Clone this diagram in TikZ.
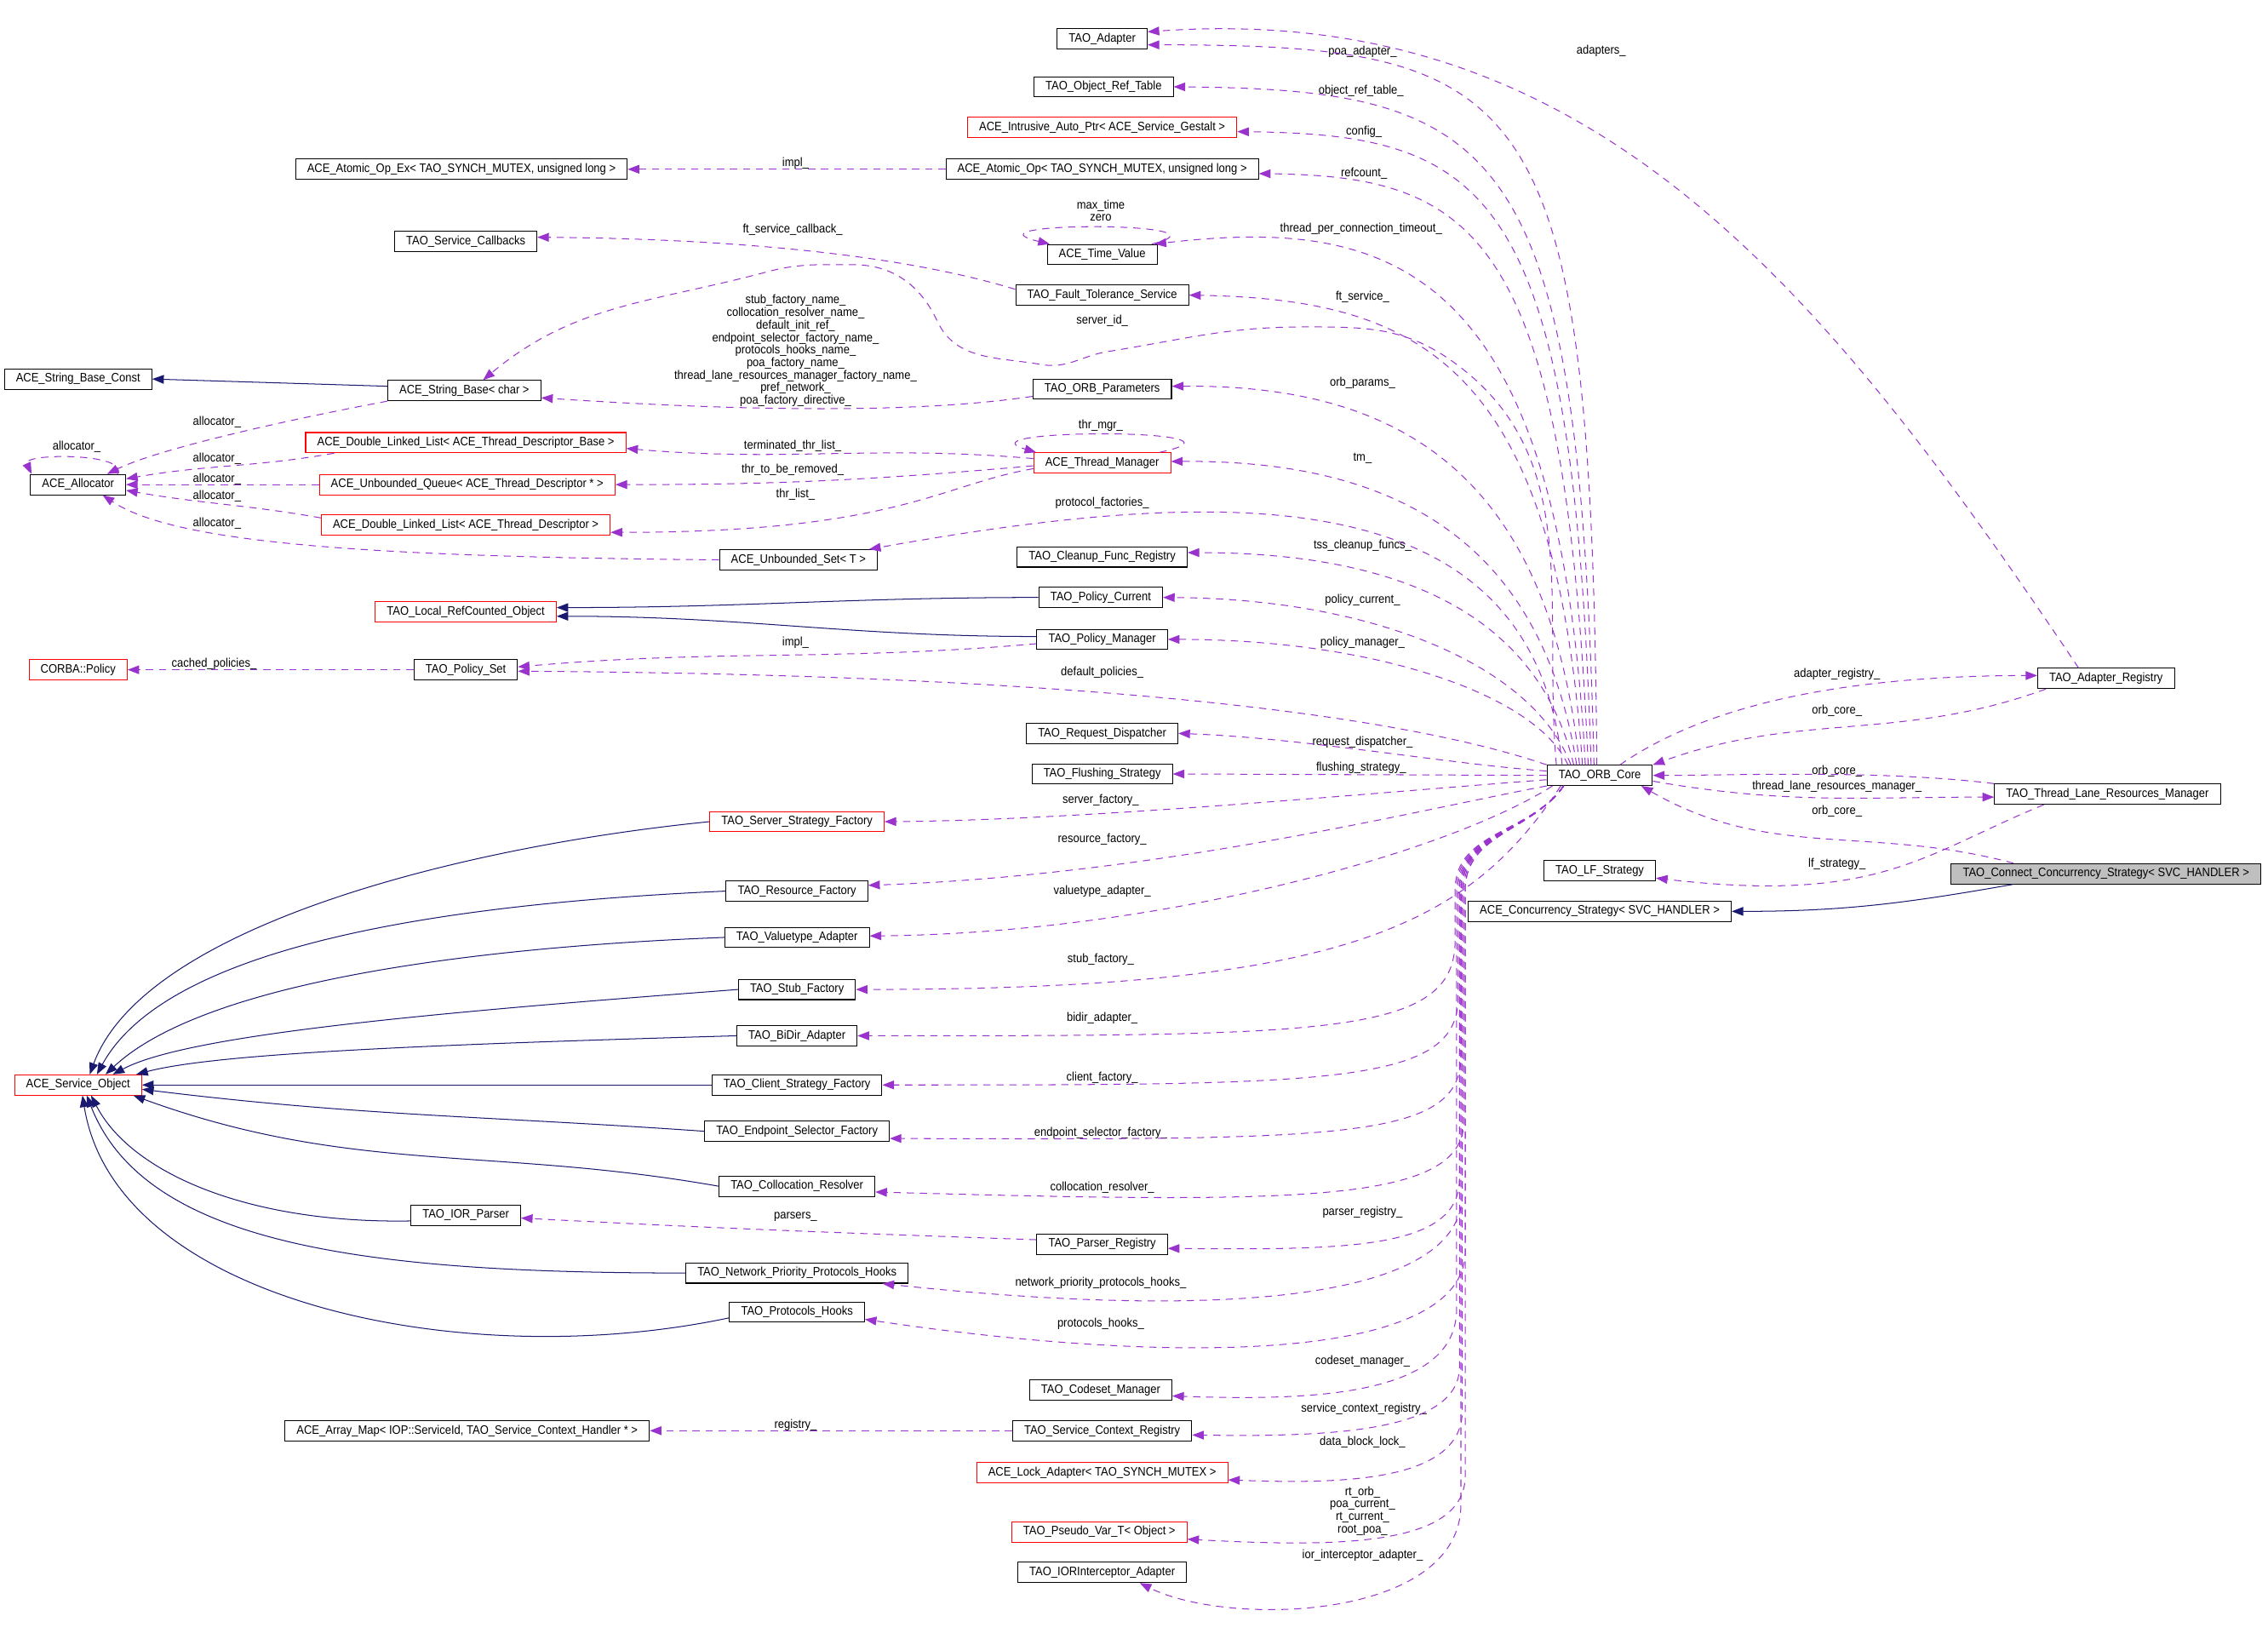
\documentclass[tikz,border=0pt]{standalone}
\usepackage{fontspec}
\setmainfont{Liberation Sans}[FakeStretch=0.9]
\usepackage{tikz}
\usetikzlibrary{arrows.meta}
\definecolor{inhcol}{HTML}{191970}
\definecolor{usecol}{HTML}{9A32CD}
\tikzset{
  cls/.style={draw=black, line width=0.6pt, anchor=center, inner xsep=8pt, inner ysep=0pt, minimum height=14pt, font=\fontsize{8.5}{8.65}\selectfont},
  rcls/.style={cls, draw=red},
  lbl/.style={inner sep=0pt, align=center, font=\fontsize{8.5}{8.65}\selectfont},
  usage/.style={draw=usecol, line width=0.6pt, dash pattern=on 5pt off 4pt, >={Triangle[length=8pt,width=6pt]}, ->},
  inherit/.style={draw=inhcol, line width=0.6pt, >={Triangle[length=8pt,width=6pt]}, ->}
}
\begin{document}
\begin{tikzpicture}[x=1pt,y=1pt]
\path[fill=white] (0,0) rectangle (1568,-1136.6);
\useasboundingbox (0,0) rectangle (1568,-1136.6);

\node[cls] (adp) at (762,-27) {TAO\_Adapter};
\node[cls] (ort) at (763,-60) {TAO\_Object\_Ref\_Table};
\node[rcls] (iap) at (762,-88) {ACE\_Intrusive\_Auto\_Ptr< ACE\_Service\_Gestalt >};
\node[cls] (aop) at (762,-117) {ACE\_Atomic\_Op< TAO\_SYNCH\_MUTEX, unsigned long >};
\node[cls] (aox) at (319,-117) {ACE\_Atomic\_Op\_Ex< TAO\_SYNCH\_MUTEX, unsigned long >};
\node[cls] (scb) at (322,-167) {TAO\_Service\_Callbacks};
\node[cls] (tv) at (762,-176) {ACE\_Time\_Value};
\node[cls] (fts) at (762,-204) {TAO\_Fault\_Tolerance\_Service};
\node[cls] (sbc) at (54,-262) {ACE\_String\_Base\_Const};
\node[cls] (sbs) at (321,-270) {ACE\_String\_Base< char >};
\node[cls] (orbp) at (762,-269) {TAO\_ORB\_Parameters};
\node[rcls] (dllb) at (322,-306) {ACE\_Double\_Linked\_List< ACE\_Thread\_Descriptor\_Base >};
\node[rcls] (thm) at (762,-320) {ACE\_Thread\_Manager};
\node[cls] (alc) at (54,-335) {ACE\_Allocator};
\node[rcls] (ubq) at (323,-335) {ACE\_Unbounded\_Queue< ACE\_Thread\_Descriptor * >};
\node[rcls] (dll) at (322,-363) {ACE\_Double\_Linked\_List< ACE\_Thread\_Descriptor >};
\node[cls] (ubs) at (552,-387) {ACE\_Unbounded\_Set< T >};
\node[cls] (cfr) at (762,-385) {TAO\_Cleanup\_Func\_Registry};
\node[cls] (pcur) at (761,-413) {TAO\_Policy\_Current};
\node[rcls] (lrc) at (322,-423) {TAO\_Local\_RefCounted\_Object};
\node[cls] (pmgr) at (762,-442) {TAO\_Policy\_Manager};
\node[rcls] (cpol) at (54,-463) {CORBA::Policy};
\node[cls] (pset) at (322,-463) {TAO\_Policy\_Set};
\node[cls] (areg) at (1456,-469) {TAO\_Adapter\_Registry};
\node[cls] (rdis) at (762,-507) {TAO\_Request\_Dispatcher};
\node[cls] (orb) at (1106,-536) {TAO\_ORB\_Core};
\node[cls] (flush) at (762,-535) {TAO\_Flushing\_Strategy};
\node[cls] (tlrm) at (1457,-549) {TAO\_Thread\_Lane\_Resources\_Manager};
\node[rcls] (ssf) at (551,-568) {TAO\_Server\_Strategy\_Factory};
\node[cls, fill=black!25] (ccs) at (1456,-604) {TAO\_Connect\_Concurrency\_Strategy< SVC\_HANDLER >};
\node[cls] (lfs) at (1106,-602) {TAO\_LF\_Strategy};
\node[cls] (rfac) at (551,-616) {TAO\_Resource\_Factory};
\node[cls] (acs) at (1106,-630) {ACE\_Concurrency\_Strategy< SVC\_HANDLER >};
\node[cls] (vta) at (551,-648) {TAO\_Valuetype\_Adapter};
\node[cls] (stub) at (551,-684) {TAO\_Stub\_Factory};
\node[cls] (bidir) at (551,-716) {TAO\_BiDir\_Adapter};
\node[rcls] (aso) at (54,-750) {ACE\_Service\_Object};
\node[cls] (csf) at (551,-750) {TAO\_Client\_Strategy\_Factory};
\node[cls] (esf) at (551,-782) {TAO\_Endpoint\_Selector\_Factory};
\node[cls] (colr) at (551,-820) {TAO\_Collocation\_Resolver};
\node[cls] (iorp) at (322,-840) {TAO\_IOR\_Parser};
\node[cls] (preg) at (762,-860) {TAO\_Parser\_Registry};
\node[cls] (nph) at (551,-880) {TAO\_Network\_Priority\_Protocols\_Hooks};
\node[cls] (phk) at (551,-907) {TAO\_Protocols\_Hooks};
\node[cls] (csm) at (761,-961) {TAO\_Codeset\_Manager};
\node[cls] (amap) at (323,-989) {ACE\_Array\_Map< IOP::ServiceId, TAO\_Service\_Context\_Handler * >};
\node[cls] (scr) at (762,-989) {TAO\_Service\_Context\_Registry};
\node[rcls] (lad) at (762,-1018) {ACE\_Lock\_Adapter< TAO\_SYNCH\_MUTEX >};
\node[rcls] (pvt) at (760,-1059) {TAO\_Pseudo\_Var\_T< Object >};
\node[cls] (iori) at (762,-1087) {TAO\_IORInterceptor\_Adapter};

\node[lbl] (l1) at (1107,-35) {adapters\_};
\node[lbl] (l2) at (942,-36) {poa\_adapter\_};
\node[lbl] (l3) at (941,-63) {object\_ref\_table\_};
\node[lbl] (l4) at (943,-91) {config\_};
\node[lbl] (l5) at (943,-120) {refcount\_};
\node[lbl] (l6) at (550,-113) {impl\_};
\node[lbl] (l7) at (761,-145.5) {max\_time\\zero};
\node[lbl] (l8) at (941,-158) {thread\_per\_connection\_timeout\_};
\node[lbl] (l9) at (548,-159) {ft\_service\_callback\_};
\node[lbl] (l10) at (942,-205) {ft\_service\_};
\node[lbl] (l11) at (762,-222) {server\_id\_};
\node[lbl] (l12) at (550,-242.5) {stub\_factory\_name\_\\collocation\_resolver\_name\_\\default\_init\_ref\_\\endpoint\_selector\_factory\_name\_\\protocols\_hooks\_name\_\\poa\_factory\_name\_\\thread\_lane\_resources\_manager\_factory\_name\_\\pref\_network\_\\poa\_factory\_directive\_};
\node[lbl] (l13) at (942,-265) {orb\_params\_};
\node[lbl] (l14) at (150,-292) {allocator\_};
\node[lbl] (l15) at (761,-294) {thr\_mgr\_};
\node[lbl] (l16) at (53,-309) {allocator\_};
\node[lbl] (l17) at (548,-308) {terminated\_thr\_list\_};
\node[lbl] (l18) at (150,-317) {allocator\_};
\node[lbl] (l19) at (942,-317) {tm\_};
\node[lbl] (l20) at (548,-325) {thr\_to\_be\_removed\_};
\node[lbl] (l21) at (150,-331) {allocator\_};
\node[lbl] (l22) at (150,-343) {allocator\_};
\node[lbl] (l23) at (550,-342) {thr\_list\_};
\node[lbl] (l24) at (762,-348) {protocol\_factories\_};
\node[lbl] (l25) at (150,-362) {allocator\_};
\node[lbl] (l26) at (942,-377) {tss\_cleanup\_funcs\_};
\node[lbl] (l27) at (942,-415) {policy\_current\_};
\node[lbl] (l28) at (550,-444) {impl\_};
\node[lbl] (l29) at (942,-444) {policy\_manager\_};
\node[lbl] (l30) at (148,-459) {cached\_policies\_};
\node[lbl] (l31) at (762,-465) {default\_policies\_};
\node[lbl] (l32) at (1270,-466) {adapter\_registry\_};
\node[lbl] (l33) at (1270,-491) {orb\_core\_};
\node[lbl] (l34) at (942,-513) {request\_dispatcher\_};
\node[lbl] (l35) at (941,-531) {flushing\_strategy\_};
\node[lbl] (l36) at (1270,-533) {orb\_core\_};
\node[lbl] (l37) at (1270,-544) {thread\_lane\_resources\_manager\_};
\node[lbl] (l38) at (761,-553) {server\_factory\_};
\node[lbl] (l39) at (1270,-561) {orb\_core\_};
\node[lbl] (l40) at (762,-580) {resource\_factory\_};
\node[lbl] (l41) at (1270,-597) {lf\_strategy\_};
\node[lbl] (l42) at (762,-616) {valuetype\_adapter\_};
\node[lbl] (l43) at (761,-663) {stub\_factory\_};
\node[lbl] (l44) at (762,-704) {bidir\_adapter\_};
\node[lbl] (l45) at (762,-745) {client\_factory\_};
\node[lbl] (l46) at (761,-783) {endpoint\_selector\_factory\_};
\node[lbl] (l47) at (762,-821) {collocation\_resolver\_};
\node[lbl] (l48) at (550,-841) {parsers\_};
\node[lbl] (l49) at (942,-838) {parser\_registry\_};
\node[lbl] (l50) at (761,-887) {network\_priority\_protocols\_hooks\_};
\node[lbl] (l51) at (761,-915) {protocols\_hooks\_};
\node[lbl] (l52) at (942,-941) {codeset\_manager\_};
\node[lbl] (l53) at (943,-974) {service\_context\_registry\_};
\node[lbl] (l54) at (550,-985) {registry\_};
\node[lbl] (l55) at (942,-997) {data\_block\_lock\_};
\node[lbl] (l56) at (942,-1044.5) {rt\_orb\_\\poa\_current\_\\rt\_current\_\\root\_poa\_};
\node[lbl] (l57) at (942,-1075) {ior\_interceptor\_adapter\_};

\draw[inherit] ([yshift=3pt]sbs.west) -- (sbc.east);
\draw[inherit] (pcur.west) to[out=180,in=0] ([yshift=3pt]lrc.east);
\draw[inherit] ([yshift=2pt]pmgr.west) to[out=180,in=0] ([yshift=-3pt]lrc.east);
\draw[inherit] ([xshift=-64pt]ccs.south) to[out=190,in=0] (acs.east);
\draw[inherit] (ssf.west) .. controls (320,-585) and (100,-640) .. ([xshift=8pt]aso.north);
\draw[inherit] (rfac.west) .. controls (300,-625) and (115,-655) .. ([xshift=13pt]aso.north);
\draw[inherit] (vta.west) .. controls (320,-655) and (140,-680) .. ([xshift=19pt]aso.north);
\draw[inherit] (stub.west) .. controls (300,-700) and (130,-715) .. ([xshift=24pt]aso.north);
\draw[inherit] (bidir.west) .. controls (300,-722) and (150,-728) .. ([xshift=-4pt]aso.north east);
\draw[inherit] (csf.west) -- (aso.east);
\draw[inherit] (esf.west) to[out=176,in=-7] ([yshift=-3pt]aso.east);
\draw[inherit] (colr.west) to[out=170,in=-20] ([xshift=-6pt]aso.south east);
\draw[inherit] ([yshift=-4pt]iorp.west) .. controls (170,-846) and (90,-810) .. ([xshift=9pt]aso.south);
\draw[inherit] (nph.west) .. controls (250,-880) and (100,-860) .. ([xshift=6pt]aso.south);
\draw[inherit] ([yshift=-4pt]phk.west) .. controls (320,-950) and (80,-900) .. ([xshift=3pt]aso.south);

\draw[usage] ([xshift=-19pt]areg.north) .. controls (1260,-198) and (1100,0) .. ([yshift=5pt]adp.east);
\draw[usage] ([xshift=-2pt]orb.north) .. controls (1100,-60) and (1060,-31) .. ([yshift=-4pt]adp.east);
\draw[usage] ([xshift=-4pt]orb.north) .. controls (1092,-100) and (1040,-62) .. (ort.east);
\draw[usage] ([xshift=-6pt]orb.north) .. controls (1088,-130) and (1030,-93) .. ([yshift=-3pt]iap.east);
\draw[usage] ([xshift=-8pt]orb.north) .. controls (1082,-160) and (1020,-122) .. ([yshift=-3pt]aop.east);
\draw[usage] (aop.west) -- (aox.east);
\draw[usage] ([xshift=-10pt]orb.north) .. controls (1078,-180) and (960,-150) .. ([xshift=-2pt]tv.north east);
\draw[usage] ([xshift=-4pt]tv.north east) .. controls (860,-153) and (660,-153) .. ([xshift=2pt]tv.north west);
\draw[usage] ([yshift=4pt]fts.west) .. controls (620,-175) and (500,-165) .. ([yshift=3pt]scb.east);
\draw[usage] ([xshift=-12pt]orb.north) .. controls (1075,-250) and (980,-207) .. (fts.east);
\draw[usage] ([xshift=-30pt]orb.north) to[out=95,in=-35] (1003,-249) to[out=145,in=0] (901,-226) to[out=180,in=9] (766,-243) to[out=189,in=-10] (720,-252) to[out=170,in=-65] (648,-222) to[out=115,in=0] (590,-183) to[out=180,in=15] (530,-188) to[out=195,in=40] ([xshift=13pt]sbs.north);
\draw[usage] ([yshift=-5pt]orbp.west) .. controls (620,-288) and (480,-282) .. ([yshift=-5pt]sbs.east);
\draw[usage] ([xshift=-14pt]orb.north) .. controls (1070,-320) and (960,-266) .. ([yshift=2pt]orbp.east);
\draw[usage] (sbs.south west) .. controls (200,-290) and (110,-310) .. ([xshift=20pt]alc.north);
\draw[usage] ([xshift=-6pt]alc.north east) .. controls (90,-313) and (15,-313) .. ([xshift=1pt]alc.north west);
\draw[usage] ([xshift=20pt]dllb.south west) to[out=190,in=10] ([yshift=4pt]alc.east);
\draw[usage] (ubq.west) -- (alc.east);
\draw[usage] ([yshift=5pt]dll.west) to[out=170,in=-10] ([yshift=-4pt]alc.east);
\draw[usage] (ubs.west) .. controls (250,-385) and (120,-375) .. ([xshift=17pt]alc.south);
\draw[usage] ([yshift=3pt]thm.west) to[out=175,in=-5] ([yshift=-4pt]dllb.east);
\draw[usage] ([yshift=-2pt]thm.west) to[out=185,in=0] (ubq.east);
\draw[usage] ([yshift=-4pt]thm.west) .. controls (650,-335) and (620,-368) .. ([yshift=-5pt]dll.east);
\draw[usage] ([xshift=-8pt]thm.north east) .. controls (880,-296) and (660,-296) .. ([xshift=2pt]thm.north west);
\draw[usage] ([xshift=-16pt]orb.north) .. controls (1065,-370) and (960,-318) .. ([yshift=1pt]thm.east);
\draw[usage] ([xshift=-26pt]orb.north) .. controls (1060,-330) and (850,-335) .. ([xshift=-6pt]ubs.north east);
\draw[usage] ([xshift=-18pt]orb.north) .. controls (1062,-420) and (960,-382) .. ([yshift=3pt]cfr.east);
\draw[usage] ([xshift=-20pt]orb.north) .. controls (1060,-460) and (950,-414) .. (pcur.east);
\draw[usage] ([xshift=-22pt]orb.north) .. controls (1062,-480) and (950,-442) .. (pmgr.east);
\draw[usage] ([yshift=-3pt]pmgr.west) to[out=185,in=5] ([yshift=2pt]pset.east);
\draw[usage] (orb.north west) .. controls (950,-488) and (700,-466) .. ([yshift=-1pt]pset.east);
\draw[usage] (pset.west) -- (cpol.east);

\draw[usage] ([xshift=14pt]orb.north) .. controls (1190,-480) and (1300,-467) .. ([yshift=2pt]areg.west);
\draw[usage] ([xshift=6pt]areg.south west) to[out=200,in=20] (orb.north east);
\draw[usage] (tlrm.north west) .. controls (1300,-532) and (1200,-536) .. (orb.east);
\draw[usage] ([yshift=-4pt]orb.east) to[out=-10,in=180] ([yshift=-2pt]tlrm.west);
\draw[usage] ([xshift=-64pt]ccs.north) to[out=165,in=-30] ([xshift=-8pt]orb.south east);
\draw[usage] ([xshift=-44pt]tlrm.south) .. controls (1330,-590) and (1300,-625) .. ([yshift=-5pt]lfs.east);

\draw[usage] ([yshift=3pt]orb.west) .. controls (1000,-528) and (900,-510) .. (rdis.east);
\draw[usage] (orb.west) -- (flush.east);
\draw[usage] ([yshift=-3pt]orb.west) .. controls (950,-548) and (750,-567) .. (ssf.east);
\draw[usage] (orb.south west) .. controls (980,-560) and (800,-605) .. ([yshift=4pt]rfac.east);
\draw[usage] ([xshift=4pt]orb.south west) .. controls (1000,-590) and (800,-645) .. ([yshift=1pt]vta.east);
\draw[usage] ([xshift=-27pt]orb.south) .. controls (1015,-640) and (930,-684) .. (stub.east);
\draw[usage] ([xshift=-25pt]orb.south) to[out=-125,in=90] (1006,-615) -- (1006,-650) .. controls (1006,-716) and (920,-716) .. (bidir.east);
\draw[usage] ([xshift=-25pt]orb.south) to[out=-125,in=90] (1008,-615) -- (1008,-690) .. controls (1008,-750) and (920,-750) .. (csf.east);
\draw[usage] ([xshift=-25pt]orb.south) to[out=-125,in=90] (1010,-615) -- (1010,-730) .. controls (1010,-788) and (930,-788) .. ([yshift=-5pt]esf.east);
\draw[usage] ([xshift=-25pt]orb.south) to[out=-125,in=90] (1012,-615) -- (1012,-775) .. controls (1012,-832) and (900,-832) .. ([yshift=-4pt]colr.east);
\draw[usage] ([yshift=3pt]preg.west) to[out=178,in=-3] ([yshift=-2pt]iorp.east);
\draw[usage] ([xshift=-25pt]orb.south) to[out=-125,in=90] (1009,-615) -- (1009,-815) .. controls (1009,-864) and (930,-864) .. ([yshift=-3pt]preg.east);
\draw[usage] ([xshift=-25pt]orb.south) to[out=-125,in=90] (1011,-615) -- (1011,-825) .. controls (1011,-905) and (820,-910) .. ([xshift=-18pt]nph.south east);
\draw[usage] ([xshift=-25pt]orb.south) to[out=-125,in=90] (1013,-615) -- (1013,-865) .. controls (1013,-940) and (820,-945) .. ([yshift=-5pt]phk.east);
\draw[usage] ([xshift=-25pt]orb.south) to[out=-125,in=90] (1007,-615) -- (1007,-905) .. controls (1007,-967) and (900,-968) .. ([yshift=-4pt]csm.east);
\draw[usage] ([xshift=-25pt]orb.south) to[out=-125,in=90] (1009,-615) -- (1009,-945) .. controls (1009,-992) and (910,-993) .. ([yshift=-3pt]scr.east);
\draw[usage] (scr.west) -- (amap.east);
\draw[usage] ([xshift=-25pt]orb.south) to[out=-125,in=90] (1011,-615) -- (1011,-975) .. controls (1011,-1024) and (930,-1026) .. ([yshift=-5pt]lad.east);
\draw[usage] ([xshift=-25pt]orb.south) to[out=-125,in=90] (1013,-615) -- (1013,-1020) .. controls (1013,-1068) and (930,-1070) .. ([yshift=-5pt]pvt.east);
\draw[usage] ([xshift=-25pt]orb.south) to[out=-125,in=90] (1010,-615) -- (1010,-1040) .. controls (1010,-1120) and (850,-1125) .. ([xshift=26pt]iori.south);
\end{tikzpicture}
\end{document}
